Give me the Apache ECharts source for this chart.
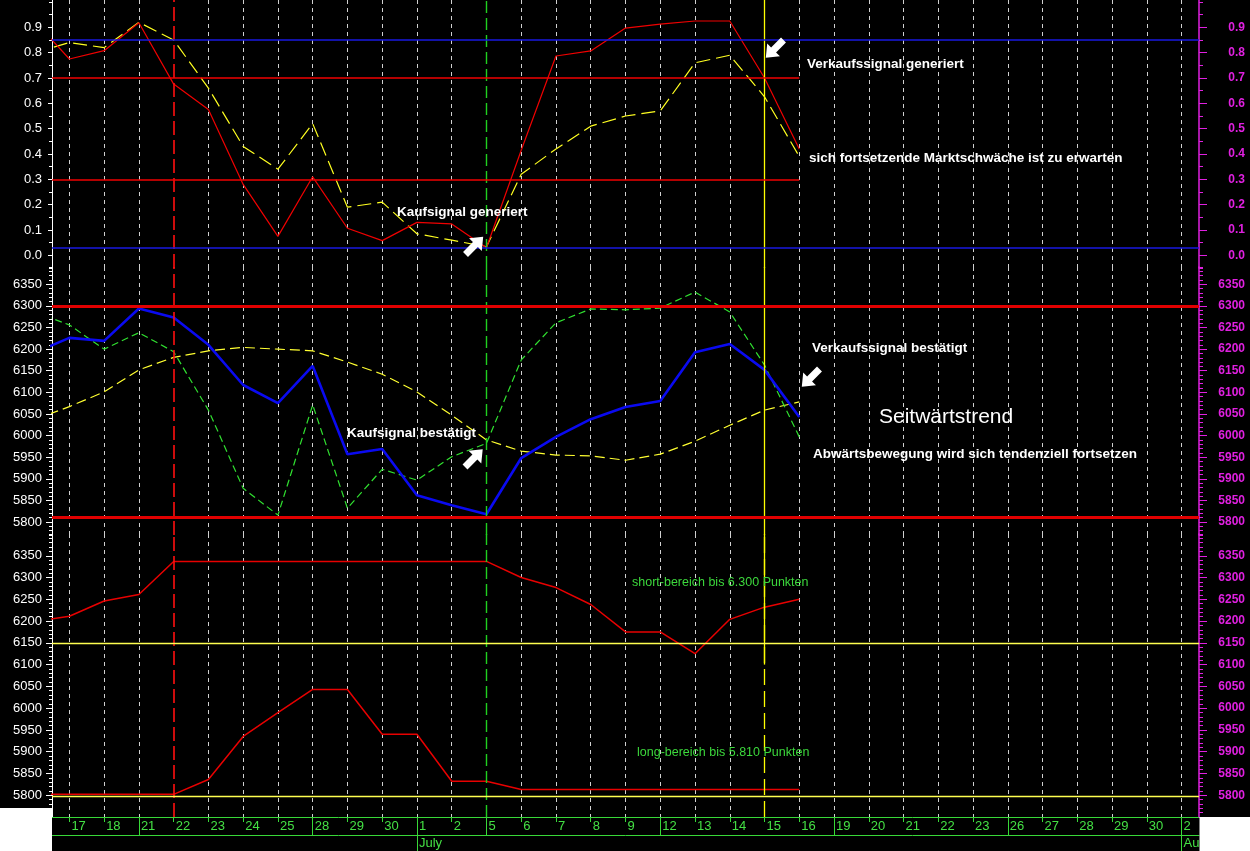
<!DOCTYPE html>
<html><head><meta charset="utf-8">
<script src="https://cdn.jsdelivr.net/npm/echarts@6/dist/echarts.min.js"></script>
<style>html,body{margin:0;padding:0;background:#000;overflow:hidden}#c{width:1250px;height:851px;}</style>
</head><body><div id="c"></div>
<script>
// ---------- categories (trading days, June 17 -> Aug 2) ----------
const days = ['17','18','21','22','23','24','25','28','29','30','1','2','5','6','7','8','9','12','13','14','15','16','19','20','21','22','23','26','27','28','29','30','2'];
const monthLabels = ['','','','','','','','','','','July','','','','','','','','','','','','','','','','','','','','','','Aug'];
const weekStartIdx = [2, 7, 12, 17, 22, 27, 32];
const signalIdx = [3, 12, 20];           // 22 June, 5 July, 15 July
const levelEndIdx = 21;                  // 16 July

// ---------- tick labels ----------
const topTicks = [0.0,0.1,0.2,0.3,0.4,0.5,0.6,0.7,0.8,0.9];
const midTicks = [5800,5850,5900,5950,6000,6050,6100,6150,6200,6250,6300,6350];
const botTicks = [5800,5850,5900,5950,6000,6050,6100,6150,6200,6250,6300,6350];

// ---------- series values (first value = day before 17 June, cut at left edge) ----------
const topRed    = [0.925,0.775,0.808,0.918,0.676,0.576,0.28,0.075,0.31,0.107,0.058,0.13,0.124,0.03,0.415,0.787,0.807,0.897,0.913,0.925,0.925,0.70,0.42];
const topYellow = [0.80,0.84,0.82,0.92,0.85,0.66,0.43,0.34,0.52,0.19,0.21,0.085,0.06,0.034,0.32,0.42,0.51,0.55,0.57,0.76,0.79,0.626,0.39];
const topBlueLevels = [0.855, 0.027];
const topRedLevels  = [0.7, 0.3];

const midBlue   = [6192,6226,6219,6294,6273,6210,6117,6075,6161,5957,5969,5862,5839,5818,5948,5997,6038,6066,6080,6193,6212,6152,6043];
const midGreen  = [6286,6256,6200,6238,6194,6059,5878,5816,6071,5832,5922,5897,5951,5982,6175,6261,6293,6291,6295,6332,6286,6163,5997];
const midYellow = [6037,6067,6101,6152,6181,6196,6204,6200,6196,6170,6142,6101,6047,5990,5964,5955,5953,5943,5957,5987,6024,6059,6078];
const midLevels = [6300, 5810];

const botUpper = [6199,6211,6246,6261,6337,6337,6337,6337,6337,6337,6337,6337,6337,6337,6300,6277,6238,6175,6175,6125,6204,6232,6250];
const botLower = [5802,5802,5802,5802,5802,5836,5935,5990,6043,6043,5940,5940,5832,5832,5813,5813,5813,5813,5813,5813,5813,5813,5813];
const botLevels = [6150, 5797];

// ---------- layout ----------
const L = 52, W = 1147;
const panels = [
  {top:0,   height:268, min:-0.05, max:1.008, step:0.05, ticks:topTicks, fmt:v=>v.toFixed(1), majorLen:4},
  {top:267, height:268, min:5770,  max:6390,  step:10,   ticks:midTicks, fmt:v=>String(v), majorLen:6},
  {top:534, height:283, min:5750,  max:6400,  step:10,   ticks:botTicks, fmt:v=>String(v), majorLen:6}
];
function minorVals(p){
  const out=[]; const n=Math.round((p.max-p.min)/p.step);
  for(let k=0;k<=n;k++){ const v=+(Math.ceil(p.min/p.step)*p.step + k*p.step).toFixed(4); if(v>=p.min-1e-9 && v<=p.max+1e-9) out.push(v); }
  return out;
}
const MAG = '#e020e0', GRN = '#38d838', WHITE='#ffffff';
const grids=[], xAxes=[], yAxes=[];
panels.forEach((p,g)=>{
  grids.push({left:L, width:W, top:p.top, height:p.height, containLabel:false});
  xAxes.push({type:'category', gridIndex:g, data:days, boundaryGap:true, position:'bottom',
    axisLine:{show:g===2, onZero:false, lineStyle:{color:GRN, width:1}},
    axisTick:{show:g===2, alignWithLabel:true, length:5, interval:0, lineStyle:{color:GRN}},
    axisLabel:{show:g===2, interval:0, color:'#44e044', fontSize:13, fontFamily:'"Liberation Sans Narrow","Liberation Sans",sans-serif', align:'left', margin:3, padding:[0,0,0,2]},
    splitLine:{show:true, alignWithLabel:true, interval:(i)=>!signalIdx.includes(i), lineStyle:{color:'#d0d0d0', width:1, type:[4,4]}}
  });
  xAxes.push({type:'value', gridIndex:g, min:-0.5, max:32.5, show:false, position:'top', axisLine:{onZero:false}, splitLine:{show:false}});
  const mv = minorVals(p);
  yAxes.push({type:'value', gridIndex:g, position:'left', min:p.min, max:p.max,
    axisLine:{show:true, onZero:false, lineStyle:{color:WHITE, width:1}},
    axisTick:{show:true, length:3, customValues:mv, lineStyle:{color:WHITE}},
    axisLabel:{show:true, customValues:p.ticks, formatter:p.fmt, color:WHITE, fontSize:13, fontFamily:'"Liberation Sans",sans-serif', margin:10},
    splitLine:{show:false}});
  yAxes.push({type:'value', gridIndex:g, position:'left', min:p.min, max:p.max,
    axisLine:{show:false, onZero:false}, axisTick:{show:true, length:p.majorLen, customValues:p.ticks, lineStyle:{color:WHITE}},
    axisLabel:{show:false}, splitLine:{show:false}});
  yAxes.push({type:'value', gridIndex:g, position:'right', min:p.min, max:p.max,
    axisLine:{show:true, onZero:false, lineStyle:{color:MAG, width:1.5}},
    axisTick:{show:true, length:4, customValues:mv, lineStyle:{color:MAG}},
    axisLabel:{show:false}, splitLine:{show:false}});
  yAxes.push({type:'value', gridIndex:g, position:'right', min:p.min, max:p.max,
    axisLine:{show:false, onZero:false}, axisTick:{show:true, length:8, customValues:p.ticks, lineStyle:{color:MAG}},
    axisLabel:{show:true, customValues:p.ticks, formatter:p.fmt, color:MAG, fontSize:12, fontWeight:'bold', fontFamily:'"Liberation Sans",sans-serif', align:'right', margin:46},
    splitLine:{show:false}});
});
xAxes.push({type:'category', gridIndex:2, data:days, boundaryGap:true, position:'bottom',
  axisLine:{show:false, onZero:false}, axisTick:{show:true, alignWithLabel:true, length:18, interval:(i)=>weekStartIdx.includes(i), lineStyle:{color:GRN}},
  axisLabel:{show:false}, splitLine:{show:false}});
xAxes.push({type:'category', gridIndex:2, data:monthLabels, boundaryGap:true, position:'bottom',
  axisLine:{show:false, onZero:false}, axisTick:{show:true, alignWithLabel:true, length:34, interval:(i)=>monthLabels[i]!=='', lineStyle:{color:GRN}},
  axisLabel:{show:true, interval:0, color:'#44e044', fontSize:13, fontFamily:'"Liberation Sans Narrow","Liberation Sans",sans-serif', align:'left', margin:20, padding:[0,0,0,2]},
  splitLine:{show:false}});
xAxes.push({type:'category', gridIndex:2, data:days, boundaryGap:true, position:'bottom', offset:18,
  axisLine:{show:true, onZero:false, lineStyle:{color:GRN, width:1}}, axisTick:{show:false}, axisLabel:{show:false}, splitLine:{show:false}});

function pts(arr){ return arr.map((v,i)=>[i-1, v]); }
const ML = (data)=>({symbol:['none','none'], silent:true, animation:false, label:{show:false}, emphasis:{disabled:true}, data});
function vLines(g){
  const d = [
    {xAxis:signalIdx[0], lineStyle:{color:'#ff1010', width:1.6, type:[14,5]}},
    {xAxis:signalIdx[1], lineStyle:{color:'#20d020', width:1.4, type:[12,5]}}
  ];
  if(g<2) d.push({xAxis:signalIdx[2], lineStyle:{color:'#ffff00', width:1.3, type:'solid'}});
  else {
    d.push({xAxis:signalIdx[2], lineStyle:{color:'#ffff00', width:1.3, type:[16,6]}});
    d.push([{coord:[signalIdx[2], 6400], lineStyle:{color:'#ffff00', width:1.3, type:'solid'}},{coord:[signalIdx[2], 6100]}]);
  }
  return d;
}
const base = {type:'line', symbol:'none', showSymbol:false, silent:true, animation:false, clip:true};
const series = [
  Object.assign({}, base, {xAxisIndex:1, yAxisIndex:0, data:pts(topYellow), lineStyle:{color:'#ffff20', width:1.2, type:[14,6]}, z:3}),
  Object.assign({}, base, {xAxisIndex:1, yAxisIndex:0, data:pts(topRed), lineStyle:{color:'#f00000', width:1.2}, z:4,
    markLine: ML([].concat(vLines(0),
      topBlueLevels.map(v=>({yAxis:v, lineStyle:{color:'#1818e0', width:1.5, type:'solid'}})),
      topRedLevels.map(v=>[{coord:[-0.5, v], lineStyle:{color:'#f00000', width:1.5, type:'solid'}},{coord:[levelEndIdx, v]}])))}),
  Object.assign({}, base, {xAxisIndex:3, yAxisIndex:4, data:pts(midYellow), lineStyle:{color:'#ffff30', width:1.2, type:[10,5]}, z:3}),
  Object.assign({}, base, {xAxisIndex:3, yAxisIndex:4, data:pts(midGreen), lineStyle:{color:'#30e030', width:1.2, type:[7,4]}, z:3}),
  Object.assign({}, base, {xAxisIndex:3, yAxisIndex:4, data:pts(midBlue), lineStyle:{color:'#0a0af0', width:2.6}, z:4,
    markLine: ML([].concat(vLines(1), midLevels.map(v=>({yAxis:v, lineStyle:{color:'#e00000', width:3, type:'solid'}}))))}),
  Object.assign({}, base, {xAxisIndex:5, yAxisIndex:8, data:pts(botUpper), lineStyle:{color:'#e80000', width:1.5}, z:4,
    markLine: ML([].concat(vLines(2), botLevels.map(v=>({yAxis:v, lineStyle:{color:'#ffff50', width:1.3, type:'solid'}}))))}),
  Object.assign({}, base, {xAxisIndex:5, yAxisIndex:8, data:pts(botLower), lineStyle:{color:'#e80000', width:1.5}, z:4})
];

// ---------- annotations ----------
const arrowPts = [[0,-13],[9,-2],[3.5,-2],[3.5,12],[-3.5,12],[-3.5,-2],[-9,-2]];
const NE = -Math.PI/4, SW = 3*Math.PI/4;
const arrow = (x,y,r)=>({type:'polygon', x, y, rotation:r, shape:{points:arrowPts}, style:{fill:'#ffffff'}, z:100, silent:true});
const B = 'bold 13.5px "Liberation Sans", sans-serif';
const txt = (x,y,t,font,fill)=>({type:'text', x, y, z:100, silent:true, style:{text:t, font, fill, verticalAlign:'middle', align:'left'}});
const graphic = [
  txt(807, 64,  'Verkaufssignal generiert', B, '#fff'),
  txt(809, 158, 'sich fortsetzende Marktschwäche ist zu erwarten', B, '#fff'),
  txt(397, 212, 'Kaufsignal generiert', B, '#fff'),
  txt(347, 433, 'Kaufsignal bestätigt', B, '#fff'),
  txt(812, 348, 'Verkaufssignal bestätigt', B, '#fff'),
  txt(879, 417, 'Seitwärtstrend', '21px "Liberation Sans", sans-serif', '#fff'),
  txt(813, 454, 'Abwärtsbewegung wird sich tendenziell fortsetzen', B, '#fff'),
  txt(632, 583, 'short-bereich bis 6.300 Punkten', '12.5px "Liberation Sans", sans-serif', '#3cd83c'),
  txt(637, 753, 'long-bereich bis 5.810 Punkten', '12.5px "Liberation Sans", sans-serif', '#3cd83c'),
  arrow(474, 246, NE), arrow(473.5, 458.5, NE), arrow(775, 48.5, SW), arrow(811, 377.5, SW),
  {type:'rect', shape:{x:0, y:808, width:52, height:43}, style:{fill:'#ffffff'}, z:200, silent:true},
  {type:'rect', shape:{x:1199.5, y:817, width:51, height:34}, style:{fill:'#ffffff'}, z:200, silent:true}
];

const chart = echarts.init(document.getElementById('c'), null, {renderer:'canvas'});
chart.setOption({backgroundColor:'#000', animation:false, grid:grids, xAxis:xAxes, yAxis:yAxes, series, graphic});
</script></body></html>
